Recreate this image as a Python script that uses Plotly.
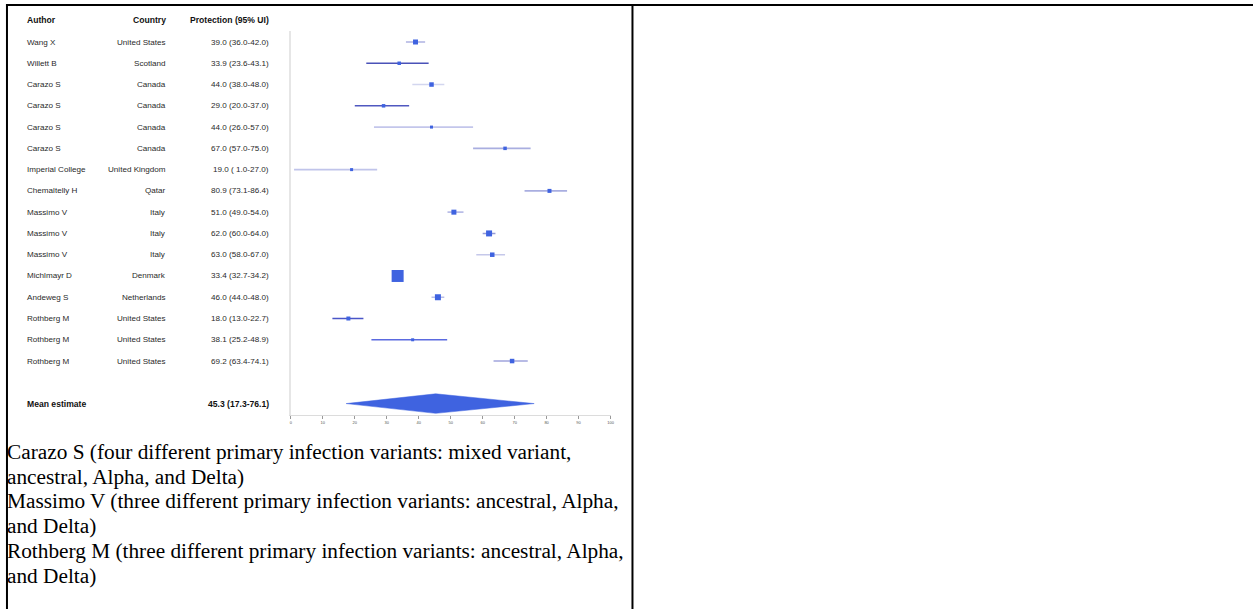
import plotly.graph_objects as go

W, H = 1253, 609

# ---------------- data ----------------
authors = ["Wang X", "Willett B", "Carazo S", "Carazo S", "Carazo S", "Carazo S",
           "Imperial College", "Chemaltelly H", "Massimo V", "Massimo V", "Massimo V",
           "Michlmayr D", "Andeweg S", "Rothberg M", "Rothberg M", "Rothberg M"]
countries = ["United States", "Scotland", "Canada", "Canada", "Canada", "Canada",
             "United Kingdom", "Qatar", "Italy", "Italy", "Italy",
             "Denmark", "Netherlands", "United States", "United States", "United States"]
estimates = [39.0, 33.9, 44.0, 29.0, 44.0, 67.0, 19.0, 80.9, 51.0, 62.0, 63.0, 33.4, 46.0, 18.0, 38.1, 69.2]
lower = [36.0, 23.6, 38.0, 20.0, 26.0, 57.0, 1.0, 73.1, 49.0, 60.0, 58.0, 32.7, 44.0, 13.0, 25.2, 63.4]
upper = [42.0, 43.1, 48.0, 37.0, 57.0, 75.0, 27.0, 86.4, 54.0, 64.0, 67.0, 34.2, 48.0, 22.7, 48.9, 74.1]
ui_labels = ["39.0 (36.0-42.0)", "33.9 (23.6-43.1)", "44.0 (38.0-48.0)", "29.0 (20.0-37.0)",
             "44.0 (26.0-57.0)", "67.0 (57.0-75.0)", "19.0 ( 1.0-27.0)", "80.9 (73.1-86.4)",
             "51.0 (49.0-54.0)", "62.0 (60.0-64.0)", "63.0 (58.0-67.0)", "33.4 (32.7-34.2)",
             "46.0 (44.0-48.0)", "18.0 (13.0-22.7)", "38.1 (25.2-48.9)", "69.2 (63.4-74.1)"]
weights = [5, 3.5, 4.5, 3.5, 3, 3.5, 3, 4, 5, 6, 4.5, 12, 6, 4, 3, 4.5]

mean_label = "Mean estimate"
mean_est, mean_low, mean_high = 45.3, 17.3, 76.1
mean_ui = "45.3 (17.3-76.1)"

headers = ["Author", "Country", "Protection (95% UI)"]
x_ticks = [0, 10, 20, 30, 40, 50, 60, 70, 80, 90, 100]

footnote_lines = [
    "Carazo S (four different primary infection variants: mixed variant,",
    "ancestral, Alpha, and Delta)",
    "Massimo V (three different primary infection variants: ancestral, Alpha,",
    "and Delta)",
    "Rothberg M (three different primary infection variants: ancestral, Alpha,",
    "and Delta)",
]

# ---------------- styles ----------------
ci_colors = ["#aeb2e2", "#4a52b8", "#d3d6ef", "#5058c0", "#c3c6eb", "#a9aee0",
             "#c0c4ea", "#a9aee0", "#b9bde7", "#959bd8", "#c5c8ea", "#c5c8ea",
             "#b9bde7", "#4a55c8", "#5b6ae0", "#a0a5dd"]
marker_color = "#3f63e0"
sans = "Liberation Sans, Arial, sans-serif"
serif = "Liberation Serif, Times New Roman, serif"

def px_x(p):
    return p / W

def px_y(p):
    return 1 - p / H

n = len(authors)
rows = list(range(n))
mean_row = n + 1  # one blank row before the mean

fig = go.Figure()

# CI lines
for i in rows:
    fig.add_trace(go.Scatter(x=[lower[i], upper[i]], y=[i, i], mode="lines",
                             line=dict(color=ci_colors[i], width=1.6),
                             hoverinfo="skip", showlegend=False))
# point estimates
fig.add_trace(go.Scatter(x=estimates, y=rows, mode="markers",
                         marker=dict(symbol="square", size=weights, color=marker_color,
                                     opacity=1, line=dict(width=0)),
                         showlegend=False, cliponaxis=False))
# diamond
dh = 0.46
fig.add_trace(go.Scatter(x=[mean_low, mean_est, mean_high, mean_est, mean_low],
                         y=[mean_row, mean_row - dh, mean_row, mean_row + dh, mean_row],
                         mode="lines", fill="toself", fillcolor=marker_color,
                         line=dict(color=marker_color, width=0.5),
                         showlegend=False, hoverinfo="skip"))

row0_px, row_h = 42, 21.27

def row_px(r):
    return row0_px + r * row_h

annotations = []
col_x = [(24.5, "left"), (168, "right"), (271, "right")]
for (cx, anc), htxt in zip(col_x, headers):
    annotations.append(dict(x=px_x(cx), xref="paper", y=px_y(row_px(-1) - 0.5), yref="paper",
                            text="<b>" + htxt + "</b>",
                            xanchor=anc, yanchor="middle", showarrow=False,
                            font=dict(family=sans, size=8.6, color="#111")))
for i in rows:
    for (cx, anc), txt in zip(col_x, [authors[i], countries[i], ui_labels[i]]):
        annotations.append(dict(x=px_x(cx), xref="paper", y=i, yref="y", text=txt,
                                xanchor=anc, yanchor="middle", showarrow=False,
                                font=dict(family=sans, size=8.1, color="#2a2a2a")))
annotations.append(dict(x=px_x(col_x[0][0]), xref="paper", y=mean_row, yref="y",
                        text="<b>" + mean_label + "</b>",
                        xanchor="left", yanchor="middle", showarrow=False,
                        font=dict(family=sans, size=8.6, color="#111")))
annotations.append(dict(x=px_x(col_x[2][0]), xref="paper", y=mean_row, yref="y",
                        text="<b>" + mean_ui + "</b>",
                        xanchor="right", yanchor="middle", showarrow=False,
                        font=dict(family=sans, size=8.6, color="#111")))

# footnotes
line_h = 24.7
for k, ln in enumerate(footnote_lines):
    annotations.append(dict(x=px_x(4.5), xref="paper", y=px_y(452 + k * line_h), yref="paper",
                            text=ln, xanchor="left", yanchor="middle", showarrow=False,
                            font=dict(family=serif, size=21.3, color="#000")))

shapes = [
    dict(type="line", xref="paper", yref="paper", x0=px_x(5), x1=px_x(1260), y0=px_y(5), y1=px_y(5),
         line=dict(color="#000", width=2)),
    dict(type="line", xref="paper", yref="paper", x0=px_x(6), x1=px_x(6), y0=px_y(4), y1=px_y(615),
         line=dict(color="#000", width=2)),
    dict(type="line", xref="paper", yref="paper", x0=px_x(634), x1=px_x(634), y0=px_y(5), y1=px_y(615),
         line=dict(color="#000", width=2)),
]

y_top_px, y_bot_px = 31, 415
fig.update_layout(
    width=W, height=H, margin=dict(l=0, r=0, t=0, b=0),
    paper_bgcolor="white", plot_bgcolor="white",
    annotations=annotations, shapes=shapes,
    xaxis=dict(domain=[px_x(291), px_x(612)], range=[0, 100], tickvals=x_ticks,
               showgrid=False, zeroline=False, showline=True, linecolor="#dcdcdc", linewidth=1,
               ticks="outside", ticklen=3, tickcolor="#999", tickwidth=1,
               tickfont=dict(family=sans, size=4, color="#555"), fixedrange=True),
    yaxis=dict(domain=[px_y(y_bot_px), px_y(y_top_px)],
               range=[(y_bot_px - row0_px) / row_h, (y_top_px - row0_px) / row_h],
               showgrid=False, zeroline=False, showticklabels=False, showline=True,
               linecolor="#e6e6e6", linewidth=1.5, ticks="", fixedrange=True),
    showlegend=False,
)

fig.write_html("out.html")
